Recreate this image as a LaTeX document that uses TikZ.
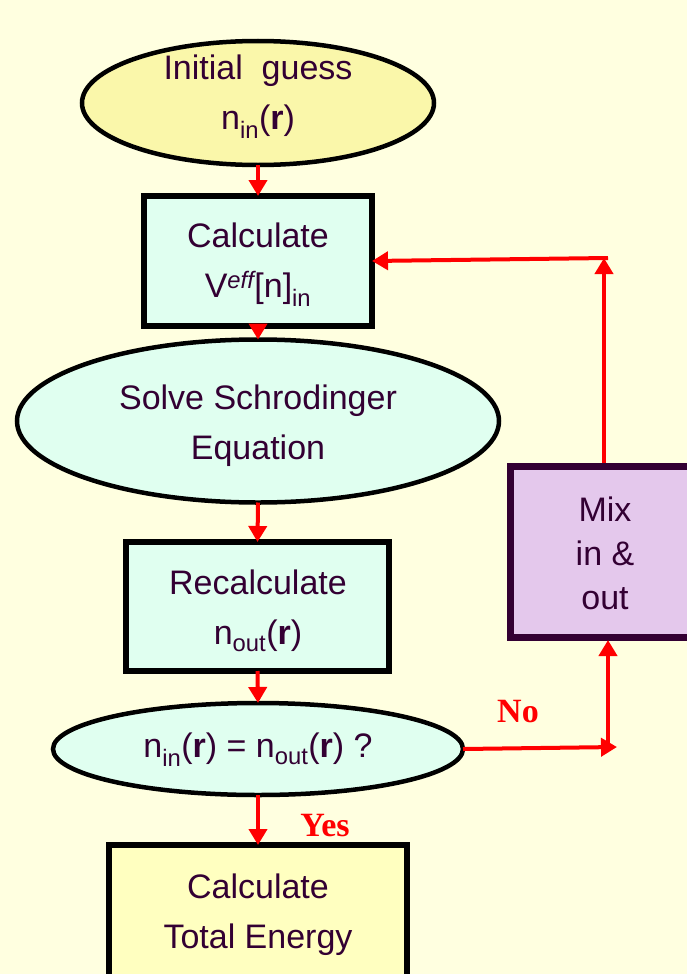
\documentclass[tikz,border=0pt]{standalone}
\usepackage{fontspec}
\setmainfont{Liberation Sans}
\newfontfamily\yesnofont{Liberation Serif}
\usetikzlibrary{shapes.geometric,arrows.meta}
\definecolor{bgcol}{RGB}{255,255,224}
\definecolor{ylw}{RGB}{250,247,170}
\definecolor{ylwbox}{RGB}{255,255,192}
\definecolor{mint}{RGB}{224,255,240}
\definecolor{lav}{RGB}{228,200,236}
\definecolor{txtcol}{RGB}{51,0,51}
\definecolor{arr}{RGB}{255,0,0}
\tikzset{
  base/.style={draw=black, inner sep=0pt, outer sep=0pt},
  ell/.style={base, ellipse, line width=4.5pt},
  box/.style={base, rectangle, line width=5.5pt},
  txt/.style={text=txtcol, align=center, inner sep=0pt, font=\fontsize{34}{50}\selectfont},
  flow/.style={draw=arr, line width=4pt, -{Triangle[length=16pt,width=18pt]}},
  lbl/.style={text=arr, font=\yesnofont\bfseries\fontsize{34}{34}\selectfont}
}
\begin{document}
\begin{tikzpicture}[x=1pt,y=-1pt]
\useasboundingbox (0,0) rectangle (687,974);
\clip (0,0) rectangle (687,974);
\fill[bgcol] (0,0) rectangle (687,974);

\node[ell, fill=ylw, minimum width=352pt, minimum height=124pt] (e1) at (258,103) {};
\node[txt] (e1t) at (258,96.5) {Initial\ \ guess\\n\textsubscript{in}(\textbf{r})};
\node[box, fill=mint, minimum width=228pt, minimum height=130pt] (b1) at (258,261) {};
\node[txt] (b1t) at (258,264.5) {Calculate\\V\textsuperscript{\itshape eff}[n]\textsubscript{in}};
\node[ell, fill=mint, minimum width=482pt, minimum height=163pt] (e2) at (258,421) {};
\node[txt] (e2t) at (258,426) {Solve Schrodinger\\Equation};
\node[box, fill=mint, minimum width=263pt, minimum height=129pt] (b2) at (257.5,606.5) {};
\node[txt] (b2t) at (258,611) {Recalculate\\n\textsubscript{out}(\textbf{r})};
\node[ell, fill=mint, minimum width=410pt, minimum height=92pt] (e3) at (258,749) {};
\node[txt] (e3t) at (258,750) {n\textsubscript{in}(\textbf{r}) = n\textsubscript{out}(\textbf{r}) ?};
\node[box, fill=ylwbox, minimum width=298pt, minimum height=150pt] (b3) at (258,920) {};
\node[txt] (b3t) at (258,915) {Calculate\\Total Energy};
\node[box, draw=txtcol, line width=7pt, fill=lav, minimum width=200pt, minimum height=171pt] (mix) at (610,551.5) {};
\node[txt, font=\fontsize{34}{44}\selectfont] (mixt) at (605,553) {Mix\\in \&\\out};

\coordinate (noend) at (617,747);
\coordinate (nocorner) at (608,747);
\coordinate (mixin) at (608,640);
\coordinate (mixout) at (604,463);
\coordinate (uptop) at (604,258);
\coordinate (topcorner) at (608,258);

\draw[flow] (e1.south) -- (b1.north);
\draw[flow] (b1.south) -- (e2.north);
\draw[flow] (e2.south) -- (b2.north);
\draw[flow] (b2.south) -- (e3.north);
\draw[flow] (e3.south) -- (b3.north);
\node[lbl] (yes) at (325,826) {Yes};
\draw[flow] (e3.east) -- (noend);
\node[lbl] (no) at (518,712) {No};
\draw[flow] (nocorner) -- (mixin);
\draw[flow] (mixout) -- (uptop);
\draw[flow] (topcorner) -- (b1.east);
\end{tikzpicture}
\end{document}
